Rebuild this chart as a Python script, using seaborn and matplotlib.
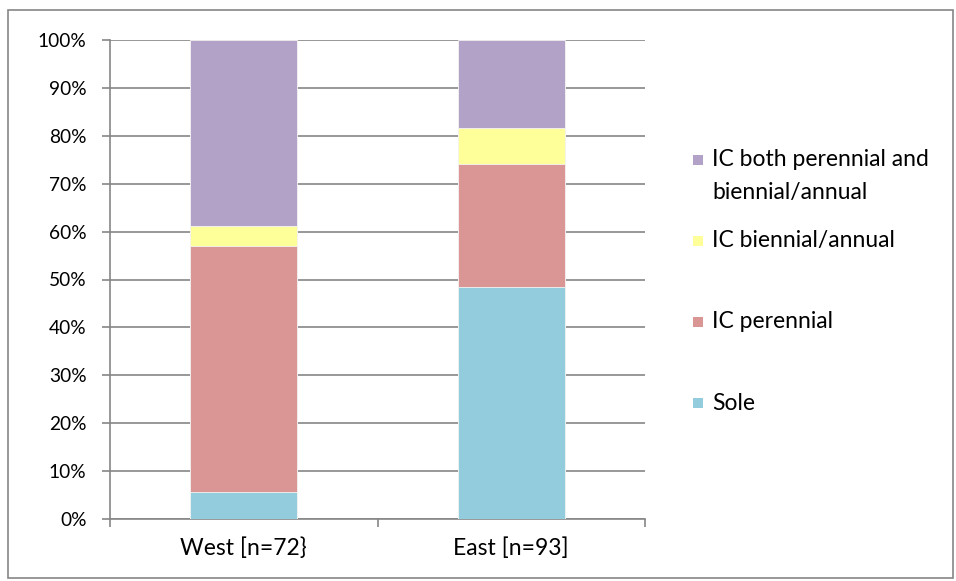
import matplotlib
matplotlib.use("Agg")
import matplotlib.pyplot as plt
import matplotlib.patches as mpatches
import seaborn as sns
import pandas as pd
import numpy as np

regions = ["West [n=72}", "East [n=93]"]
series = ["Sole", "IC perennial", "IC biennial/annual", "IC both perennial and biennial/annual"]
legend_labels = ["Sole", "IC perennial", "IC biennial/annual", "IC both perennial and\nbiennial/annual"]
sole = [5.6, 48.4]
ic_perennial = [51.4, 25.8]
ic_biennial = [4.2, 7.5]
ic_both = [38.8, 18.3]
colors = ["#93CDDD", "#D99694", "#FFFF99", "#B3A2C7"]
yticks = [0, 10, 20, 30, 40, 50, 60, 70, 80, 90, 100]

sns.set_theme(style="white")
plt.rcParams["font.family"] = ["Lato", "DejaVu Sans"]

vals = np.array([sole, ic_perennial, ic_biennial, ic_both])
cum = np.cumsum(vals, axis=0)
rows = []
for i, s in enumerate(series):
    for j, r in enumerate(regions):
        rows.append({"region": r, "series": s, "cum": cum[i, j]})
df = pd.DataFrame(rows)

W, H = 956, 581
fig = plt.figure(figsize=(W / 100, H / 100), dpi=100)
ax = fig.add_axes([110 / W, 1 - 519 / H, (645 - 110) / W, (519 - 40) / H])

for i in range(len(series) - 1, -1, -1):
    sub = df[df["series"] == series[i]]
    sns.barplot(data=sub, x="region", y="cum", color=colors[i], saturation=1,
                width=0.4, ax=ax, order=regions, zorder=3, linewidth=0.6,
                edgecolor="#F4F4F4")

ax.set_xlim(-0.5, 1.5)
ax.set_ylim(0, 100)
ax.set_yticks(yticks)
ax.set_yticklabels([f"{t}%" for t in yticks], fontsize=13.8, color="black")
ax.set_xticks([0, 1])
ax.set_xticklabels(regions, fontsize=16.5, color="black")
ax.set_xticks([-0.5, 0.5, 1.5], minor=True)
ax.set_xlabel("")
ax.set_ylabel("")
ax.set_axisbelow(True)
ax.yaxis.grid(True, color="#868686", linewidth=1.2)
ax.xaxis.grid(False)
for side in ["top", "right"]:
    ax.spines[side].set_visible(False)
ax.spines["left"].set_color("#868686")
ax.spines["bottom"].set_color("#868686")
ax.spines["left"].set_linewidth(1.2)
ax.spines["bottom"].set_linewidth(1.2)
ax.tick_params(axis="y", which="major", direction="out", length=6, width=1.2,
               color="#868686", left=True, pad=11)
ax.tick_params(axis="x", which="major", length=0, pad=13)
ax.tick_params(axis="x", which="minor", direction="out", length=6, width=1.2,
               color="#868686", bottom=True)

# legend (manual, Excel style)
entries = [(3, 160, 176), (2, 241, 241), (1, 322, 322), (0, 403, 403)]
for idx, ysq, ytxt in entries:
    fig.patches.append(mpatches.Rectangle((693 / W, 1 - (ysq + 5) / H), 10 / W, 10 / H,
                                          transform=fig.transFigure, facecolor=colors[idx],
                                          edgecolor="none"))
    fig.text(712 / W, 1 - ytxt / H, legend_labels[idx], fontsize=16.5, va="center",
             ha="left", color="black", linespacing=1.65)

# outer border
fig.patches.append(mpatches.Rectangle((8 / W, 3 / H), (W - 11) / W, (H - 13) / H,
                                      transform=fig.transFigure, facecolor="none",
                                      edgecolor="#868686", linewidth=1.2))

fig.savefig("out.png", dpi=100)
